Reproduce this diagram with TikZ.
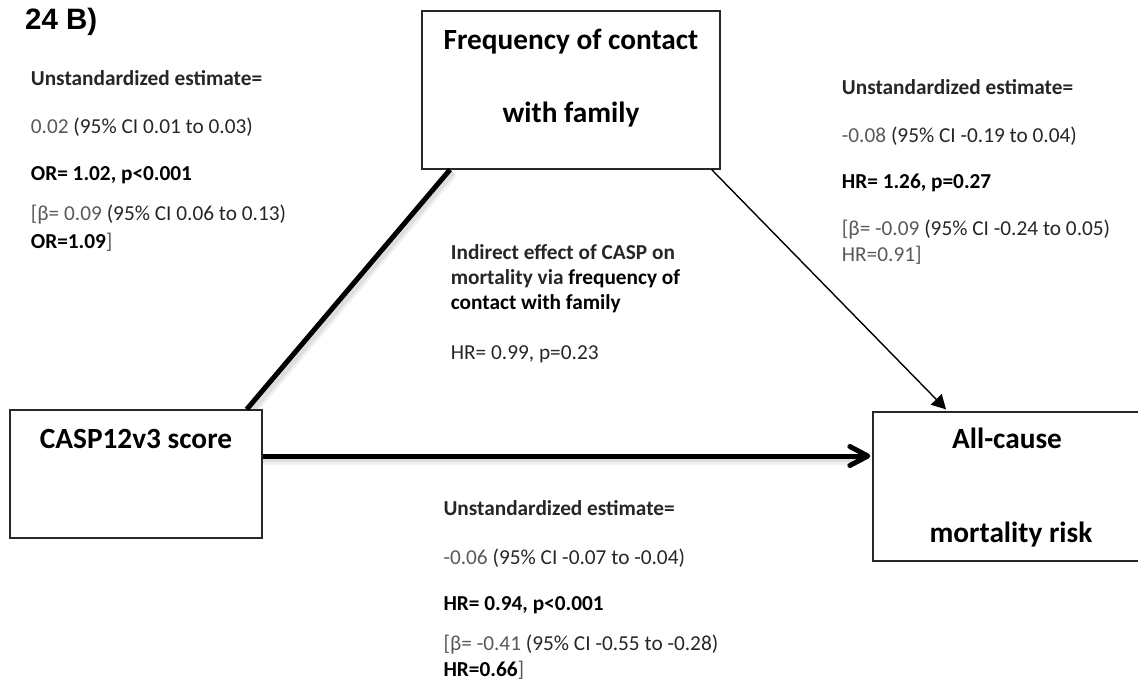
\documentclass[tikz,border=0pt]{standalone}
\usepackage{fontspec}
\setmainfont{Carlito}
\newfontfamily\headfont{Liberation Sans}
\usetikzlibrary{arrows.meta,calc}
\definecolor{labgray}{RGB}{38,38,38}
\definecolor{numgray}{RGB}{89,89,89}
\definecolor{boxline}{RGB}{40,40,40}
\begin{document}
\begin{tikzpicture}[x=1pt,y=-1pt,
  varbox/.style={draw=boxline, line width=1.3pt, fill=white, inner sep=0pt},
  vartitle/.style={anchor=base, inner sep=0pt, font=\fontsize{29.3}{35}\selectfont\bfseries},
  statline/.style={anchor=base west, inner sep=0pt, font=\fontsize{21.3}{25}\selectfont, text=labgray},
  thickpath/.style={line width=5pt},
  thinpath/.style={line width=1.4pt},
  shadowwide/.style={line width=9pt, draw=black!30, opacity=0.18},
  shadowcore/.style={line width=6pt, draw=black!35, opacity=0.25}
]
\useasboundingbox (0,0) rectangle (1138,688);

% panel label
\node[anchor=base west, inner sep=0pt, font=\headfont\fontsize{29.5}{34}\selectfont\bfseries] (panel) at (25,29.3) {24 B)};

% soft shadows under the heavy paths
\draw[shadowwide] (250,414) -- (453.5,173);
\draw[shadowcore] (249.5,413) -- (453,172);
\draw[shadowwide] (262,460) -- (856,460);
\draw[shadowcore] (262,459) -- (856,459);

% variables
\node[varbox, minimum width=298pt, minimum height=158pt] (freq) at (571,90) {};
\node[varbox, minimum width=252pt, minimum height=128pt] (casp) at (136,474) {};
\node[varbox, minimum width=272pt, minimum height=149pt] (allc) at (1009,486.5) {};

\node[vartitle] (freqa) at (571,49) {Frequency of contact};
\node[vartitle] (freqb) at (571,122) {with family};
\node[vartitle] (caspt) at (136,448) {CASP12v3 score};
\node[vartitle] (allca) at (1007,448) {All-cause};
\node[vartitle] (allcb) at (1011,542) {mortality risk};

% paths of the mediation model
\draw[thickpath] ([xshift=110.7pt]casp.north) -- ([xshift=-121pt]freq.south);
\draw[thickpath, -{Straight Barb[length=18pt,width=19pt,round]}]
  ([yshift=18pt]casp.east) -- ([yshift=30.5pt,xshift=-2pt]allc.west);
\draw[thinpath, -{Triangle[length=14pt,width=15pt]}]
  ([xshift=140.7pt]freq.south) -- ([xshift=-63pt,yshift=2pt]allc.north);

% path a
\node[statline] (a1) at (30.7,85) {\bfseries Unstandardized estimate=};
\node[statline] (a2) at (30.7,133) {\textcolor{numgray}{0.02} (95\% CI 0.01 to 0.03)};
\node[statline, text=black] (a3) at (30.7,180) {\bfseries OR= 1.02, p<0.001};
\node[statline] (a4) at (30.7,220) {\textcolor{numgray}{[β= 0.09} (95\% CI 0.06 to 0.13)};
\node[statline, text=black] (a5) at (30.7,248) {\textbf{OR=1.09}\textcolor{numgray}{]}};

% path b
\node[statline] (b1) at (841.7,94.3) {\bfseries Unstandardized estimate=};
\node[statline] (b2) at (841.7,142.7) {\textcolor{numgray}{-0.08} (95\% CI -0.19 to 0.04)};
\node[statline, text=black] (b3) at (841.7,188.3) {\bfseries HR= 1.26, p=0.27};
\node[statline] (b4) at (841.7,235) {\textcolor{numgray}{[β= -0.09} (95\% CI -0.24 to 0.05)};
\node[statline, text=numgray] (b5) at (841.7,261.7) {HR=0.91]};

% direct path c'
\node[statline] (c1) at (443.3,515.7) {\bfseries Unstandardized estimate=};
\node[statline] (c2) at (443.3,564.3) {\textcolor{numgray}{-0.06} (95\% CI -0.07 to -0.04)};
\node[statline, text=black] (c3) at (443.3,610.7) {\bfseries HR= 0.94, p<0.001};
\node[statline] (c4) at (443.3,650) {\textcolor{numgray}{[β= -0.41} (95\% CI -0.55 to -0.28)};
\node[statline, text=black] (c5) at (443.3,676) {\textbf{HR=0.66}\textcolor{numgray}{]}};

% indirect effect
\node[statline] (i1) at (450.7,259) {\bfseries Indirect effect of CASP on};
\node[statline] (i2) at (450.7,284) {\bfseries mortality via \textcolor{black}{frequency of}};
\node[statline, text=black] (i3) at (450.7,309) {\bfseries contact with family};
\node[statline] (i4) at (450.7,359) {HR= 0.99, p=0.23};
\end{tikzpicture}
\end{document}
